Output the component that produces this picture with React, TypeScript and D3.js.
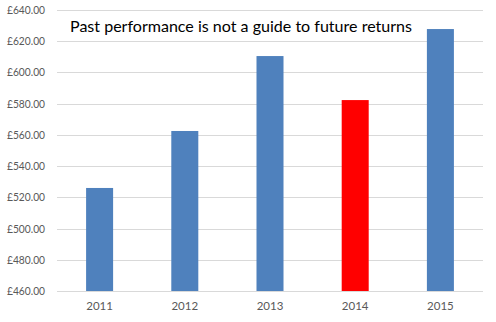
import React from "react";
import * as d3 from "d3";

const categories = ["2011", "2012", "2013", "2014", "2015"];
const values = [526.0, 562.5, 610.5, 582.3, 627.8];
const highlight = ["2014"];
const yTicks = [460, 480, 500, 520, 540, 560, 580, 600, 620, 640];
const title = "Past performance is not a guide to future returns";

const W = 496;
const H = 322;
const M = { left: 57, right: 13, top: 10, bottom: 31 };

export default function App() {
  const x = d3
    .scaleBand<string>()
    .domain(categories)
    .range([M.left, W - M.right])
    .paddingInner(0.683)
    .paddingOuter(0.3415);
  const y = d3.scaleLinear().domain([460, 640]).range([H - M.bottom, M.top]);
  const fmt = (v: number) => "£" + d3.format(".2f")(v);
  const font = "Lato, 'Open Sans', sans-serif";

  return (
    <svg
      width={W}
      height={H}
      style={{ position: "absolute", left: 0, top: 0, background: "#fff" }}
      fontFamily={font}
    >
      {yTicks.map((t) => (
        <g key={t}>
          <line
            x1={M.left}
            x2={W - M.right}
            y1={Math.round(y(t)) + 0.5}
            y2={Math.round(y(t)) + 0.5}
            stroke="#d9d9d9"
            strokeWidth={1}
          />
          <text
            x={45}
            y={y(t)}
            dy="0.35em"
            textAnchor="end"
            fontSize={11.5}
            fill="#595959"
            textLength={38}
            lengthAdjust="spacingAndGlyphs"
          >
            {fmt(t)}
          </text>
        </g>
      ))}
      {categories.map((c, i) => (
        <rect
          key={c}
          x={x(c)}
          y={y(values[i])}
          width={x.bandwidth()}
          height={y(460) - y(values[i])}
          fill={highlight.includes(c) ? "#ff0000" : "#4f81bd"}
        />
      ))}
      {categories.map((c) => (
        <text
          key={c}
          x={(x(c) as number) + x.bandwidth() / 2}
          y={309.5}
          textAnchor="middle"
          fontSize={11.5}
          fill="#595959"
        >
          {c}
        </text>
      ))}
      <text
        x={70}
        y={32}
        fontSize={16}
        fill="#000"
        textLength={342}
        lengthAdjust="spacingAndGlyphs"
      >
        {title}
      </text>
    </svg>
  );
}
